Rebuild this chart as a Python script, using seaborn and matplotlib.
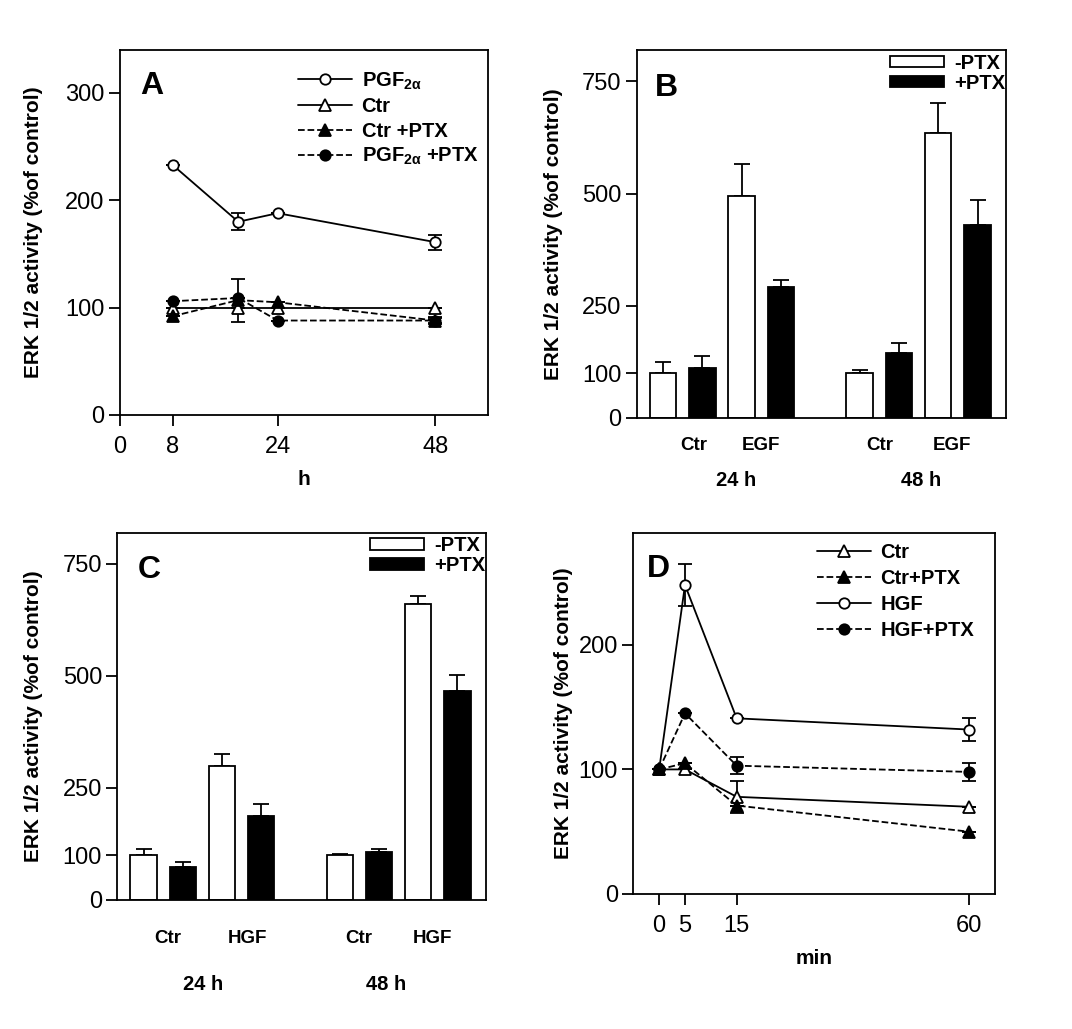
import numpy as np
import pandas as pd
import matplotlib
matplotlib.use('Agg')
import matplotlib.pyplot as plt
import matplotlib.transforms as mtransforms
from matplotlib.lines import Line2D
from matplotlib.patches import Patch
import seaborn as sns

sns.set_style('ticks')
plt.rcParams['font.family'] = ['Liberation Sans', 'DejaVu Sans']
plt.rcParams['mathtext.fontset'] = 'custom'
plt.rcParams['mathtext.rm'] = 'Liberation Sans:bold'
plt.rcParams['mathtext.it'] = 'Liberation Sans:bold'
plt.rcParams['mathtext.bf'] = 'Liberation Sans:bold'
for key in ['text.color', 'axes.labelcolor', 'xtick.color', 'ytick.color', 'axes.edgecolor']:
    plt.rcParams[key] = 'black'

# ---- panel A: time course in hours
hours = [8, 18, 24, 48]
a_pgf = [233, 180, 188, 161]
a_pgf_err = [0, 8, 0, 7]
a_ctr = [100, 100, 100, 100]
a_ctr_err = [0, 0, 0, 0]
a_ctr_ptx = [92, 107, 105, 88]
a_ctr_ptx_err = [0, 20, 0, 3]
a_pgf_ptx = [106, 109, 88, 88]
a_pgf_ptx_err = [0, 0, 0, 2]

# ---- panel B: EGF bars (Ctr, EGF) x (24 h, 48 h)
b_minus = [100, 495, 100, 636]
b_minus_err = [24, 71, 6, 67]
b_plus = [112, 291, 144, 430]
b_plus_err = [26, 17, 22, 55]
b_treat = ['Ctr', 'EGF']

# ---- panel C: HGF bars
c_minus = [100, 300, 100, 660]
c_minus_err = [14, 25, 2, 18]
c_plus = [73, 188, 107, 467]
c_plus_err = [11, 26, 6, 36]
c_treat = ['Ctr', 'HGF']

groups = ['24 h', '48 h']

# ---- panel D: time course in minutes
minutes = [0, 5, 15, 60]
d_ctr = [100, 100, 78, 70]
d_ctr_err = [0, 0, 13, 0]
d_ctr_ptx = [100, 105, 71, 50]
d_ctr_ptx_err = [0, 0, 0, 0]
d_hgf = [100, 248, 141, 132]
d_hgf_err = [0, 17, 0, 9]
d_hgf_ptx = [100, 145, 103, 98]
d_hgf_ptx_err = [0, 0, 7, 7]

PGF = r'PGF$_{2\alpha}$'
YLAB = 'ERK 1/2 activity (%of control)'
LW = 1.3

fig = plt.figure(figsize=(10.72, 10.29), dpi=100)
axA = fig.add_axes([0.1119, 0.5967, 0.3433, 0.3547])
axB = fig.add_axes([0.5939, 0.5938, 0.3445, 0.3576])
axC = fig.add_axes([0.1094, 0.1254, 0.3437, 0.3570])
axD = fig.add_axes([0.5908, 0.1312, 0.3374, 0.3511])


def style_axes(ax):
    for s in ax.spines.values():
        s.set_visible(True)
        s.set_linewidth(LW)
        s.set_color('black')
    ax.tick_params(direction='out', length=8, width=LW, labelsize=17, colors='black', pad=3)
    ax.tick_params(axis='x', pad=7)


def line_series(ax, x, y, err, marker, filled, dashed, label):
    df = pd.DataFrame({'x': x, 'y': y})
    ms = 8 if marker == '^' else 7.5
    sns.lineplot(data=df, x='x', y='y', ax=ax, color='black', lw=LW,
                 linestyle='--' if dashed else '-', marker=marker, ms=ms,
                 mfc='black' if filled else 'white', mec='black', mew=LW, label=label,
                 legend=False, zorder=3)
    ax.errorbar(x, y, yerr=err, fmt='none', ecolor='black', elinewidth=LW,
                capsize=5, capthick=LW, zorder=2)
    return Line2D([], [], color='black', lw=LW, linestyle='--' if dashed else '-',
                  marker=marker, ms=ms, mfc='black' if filled else 'white',
                  mec='black', mew=LW)


def bar_panel(ax, minus, minus_err, plus, plus_err, treat, lab_x, lab_y, grp_x, grp_y):
    rows = []
    for gi in range(2):
        for ti in range(2):
            k = gi * 2 + ti
            rows.append((5 * gi + 2 * ti, minus[k], minus_err[k], '-PTX'))
            rows.append((5 * gi + 2 * ti + 1, plus[k], plus_err[k], '+PTX'))
    df = pd.DataFrame(rows, columns=['pos', 'value', 'err', 'ptx'])
    sns.barplot(data=df, x='pos', y='value', hue='ptx', hue_order=['-PTX', '+PTX'],
                palette={'-PTX': 'white', '+PTX': 'black'}, native_scale=True,
                dodge=False, width=0.67, edgecolor='black', linewidth=LW,
                errorbar=None, legend=False, ax=ax, zorder=2)
    ax.errorbar(df['pos'], df['value'], yerr=[np.zeros(len(df)), df['err']],
                fmt='none', ecolor='black', elinewidth=LW, capsize=6, capthick=LW, zorder=1)
    ax.set_xlim(-0.67, 8.72)
    ax.set_ylim(0, 820)
    ax.set_yticks([0, 100, 250, 500, 750])
    ax.tick_params(axis='x', bottom=False, labelbottom=False)
    ax.set_xlabel('')
    ax.set_ylabel('')
    trans = mtransforms.blended_transform_factory(ax.transData, ax.transAxes)
    for x, t in zip(lab_x, treat * 2):
        ax.text(x, lab_y, t, transform=trans, ha='center', va='center',
                fontsize=13.5, fontweight='bold')
    for x, g in zip(grp_x, groups):
        ax.text(x, grp_y, g, transform=trans, ha='center', va='center',
                fontsize=14.5, fontweight='bold')
    handles = [Patch(facecolor='white', edgecolor='black', lw=LW),
               Patch(facecolor='black', edgecolor='black', lw=LW)]
    ax.legend(handles, ['-PTX', '+PTX'], loc='upper left', bbox_to_anchor=(0.685, 0.99),
              frameon=False, borderpad=0, borderaxespad=0, handlelength=2.7,
              handleheight=0.5, handletextpad=0.5, labelspacing=0.05,
              prop={'size': 14.5, 'weight': 'bold'})


# ---- A
style_axes(axA)
hA = [line_series(axA, hours, a_pgf, a_pgf_err, 'o', False, False, 'pgf'),
      line_series(axA, hours, a_ctr, a_ctr_err, '^', False, False, 'ctr'),
      line_series(axA, hours, a_ctr_ptx, a_ctr_ptx_err, '^', True, True, 'ctrptx'),
      line_series(axA, hours, a_pgf_ptx, a_pgf_ptx_err, 'o', True, True, 'pgfptx')]
axA.set_xlim(0, 56)
axA.set_ylim(0, 340)
axA.set_xticks([0, 8, 24, 48])
axA.set_yticks([0, 100, 200, 300])
axA.set_xlabel('h', fontsize=15, fontweight='bold', labelpad=9)
axA.legend(hA, [PGF, 'Ctr', 'Ctr +PTX', PGF + ' +PTX'], loc='upper left',
           bbox_to_anchor=(0.484, 0.944), frameon=False, borderpad=0, borderaxespad=0,
           handlelength=2.7, handletextpad=0.45, labelspacing=0.27,
           prop={'size': 14.5, 'weight': 'bold'})

# ---- B
style_axes(axB)
bar_panel(axB, b_minus, b_minus_err, b_plus, b_plus_err, b_treat,
          [0.79, 2.49, 5.5, 7.35], -0.075, [1.86, 6.56], -0.17)

# ---- C
style_axes(axC)
bar_panel(axC, c_minus, c_minus_err, c_plus, c_plus_err, c_treat,
          [0.61, 2.64, 5.48, 7.36], -0.106, [1.51, 6.19], -0.229)

# ---- D
style_axes(axD)
hD = [line_series(axD, minutes, d_ctr, d_ctr_err, '^', False, False, 'ctr'),
      line_series(axD, minutes, d_ctr_ptx, d_ctr_ptx_err, '^', True, True, 'ctrptx'),
      line_series(axD, minutes, d_hgf, d_hgf_err, 'o', False, False, 'hgf'),
      line_series(axD, minutes, d_hgf_ptx, d_hgf_ptx_err, 'o', True, True, 'hgfptx')]
axD.set_xlim(-5, 65)
axD.set_ylim(0, 290)
axD.set_xticks([0, 5, 15, 60])
axD.set_yticks([0, 100, 200])
axD.set_xlabel('min', fontsize=15, fontweight='bold', labelpad=9)
axD.legend(hD, ['Ctr', 'Ctr+PTX', 'HGF', 'HGF+PTX'], loc='upper left',
           bbox_to_anchor=(0.507, 0.972), frameon=False, borderpad=0, borderaxespad=0,
           handlelength=2.7, handletextpad=0.45, labelspacing=0.35,
           prop={'size': 14.5, 'weight': 'bold'})

# shared y labels and panel letters
for ax, lx, letter, pos in [(axA, -0.209, 'A', (0.087, 0.901)),
                            (axB, -0.200, 'B', (0.0805, 0.896)),
                            (axC, -0.201, 'C', (0.086, 0.898)),
                            (axD, -0.166, 'D', (0.070, 0.900))]:
    ax.set_ylabel(YLAB, fontsize=15, fontweight='bold')
    ax.yaxis.set_label_coords(lx, 0.5)
    ax.text(pos[0], pos[1], letter, transform=ax.transAxes, ha='center', va='center',
            fontsize=23, fontweight='bold')

fig.savefig('out.png', dpi=100)
